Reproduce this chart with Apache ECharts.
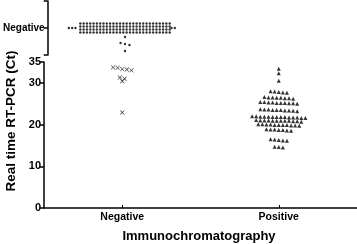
<!DOCTYPE html>
<html>
<head>
<meta charset="utf-8">
<script src="https://cdn.jsdelivr.net/npm/echarts@6/dist/echarts.min.js"></script>
<style>
html, body { margin: 0; padding: 0; background: #fff; }
#chartsBox { width: 357px; height: 244px; }
</style>
</head>
<body>
<div id="chartsBox"></div>
<script>
// groups on the x axis (immunochromatography result)
var groups = ['Negative', 'Positive'];

// immuno-negative, PCR-negative samples: count drawn on the "Negative" row
var negativeCount = 117;
// immuno-negative samples with late signal, drawn below the Negative row (upper segment units)
var negativeLate = [18, 12, 11, 10, 4];
// immuno-negative but PCR-positive samples (Ct)
var negativeCt = [33.7, 33.3, 33.0, 33.2, 33.6, 31.3, 31.0, 30.4, 22.9];
// immuno-positive samples (Ct)
var positiveCt = [
    33.4, 32.3, 30.5,
    27.9, 27.7, 27.8, 28.0, 27.6,
    26.5, 26.3, 26.6, 26.4, 26.2, 26.5, 26.4, 26.3,
    25.3, 25.1, 25.2, 25.4, 25.0, 25.2, 25.3, 25.1, 25.2, 25.4,
    23.6, 23.4, 23.5, 23.7, 23.3, 23.5, 23.6, 23.4, 23.5, 23.2,
    21.9, 21.7, 21.8, 22.0, 21.6, 21.8, 21.9, 21.7, 21.8, 22.0, 21.7, 21.9, 21.8, 21.6,
    20.9, 21.0, 20.8, 20.9, 21.1, 20.8, 20.9, 21.0, 20.9, 20.7, 21.0, 20.9,
    20.0, 19.8, 19.9, 20.1, 19.7, 19.9, 20.0, 19.8, 19.9, 20.1, 19.9,
    18.8, 18.6, 18.7, 18.9, 18.5, 18.7, 18.8,
    16.4, 16.2, 16.3, 16.5, 16.1,
    14.7, 14.5, 14.6
];
var ctTicks = [0, 10, 20, 30, 35];
var negativeRowValue = 27;
var upperTicks = [0, 27, 54];

var pxPerUnit = 156.5; // x axis: 313px over 2 units

// spread points of a column into rows, centred on the group position
function swarm(values, center, gapPx, rowGap) {
    var sorted = values.slice().sort(function (a, b) { return b - a; });
    var rows = [], cur = [];
    sorted.forEach(function (v) {
        if (cur.length && cur[cur.length - 1] - v > rowGap) { rows.push(cur); cur = []; }
        cur.push(v);
    });
    if (cur.length) rows.push(cur);
    var out = [];
    rows.forEach(function (row) {
        row.forEach(function (v, k) {
            var off = (k - (row.length - 1) / 2) * gapPx;
            out.push([center + off / pxPerUnit, v]);
        });
    });
    return out;
}

// the big Negative row: 4 stacked rows plus a few on the ends
function negativeRow(count) {
    var perRow = 28, nRows = 4, out = [];
    var stepX = 3.35, stepY = 3;
    for (var i = 0; i < count; i++) {
        var r = Math.floor(i / perRow), c = i % perRow;
        if (r < nRows) {
            out.push([1 + (c - (perRow - 1) / 2) * stepX / pxPerUnit,
                      negativeRowValue + ((nRows - 1) / 2 - r) * stepY]);
        } else {
            var k = i - nRows * perRow;
            var side = k % 2 === 0 ? -1 : 1;
            var pos = perRow / 2 + 0.5 + Math.floor(k / 2);
            out.push([1 + side * pos * stepX / pxPerUnit - 0.01, negativeRowValue]);
        }
    }
    return out;
}

var negRowData = negativeRow(negativeCount).concat(swarm(negativeLate, 1, 4.5, 1.5));
var negCtData = swarm(negativeCt, 1, 4.6, 0.35);
var posCtData = swarm(positiveCt, 2, 4.1, 0.35);

var labelFont = { fontFamily: 'Liberation Sans, Arial', fontWeight: 'bold', color: '#000' };
var axisLine = { show: true, lineStyle: { color: '#000', width: 1.5 } };

option = {
    animation: false,
    backgroundColor: '#fff',
    grid: [
        { left: 44, right: 0, top: 1, height: 54 },
        { left: 44, right: 0, top: 62, height: 146 }
    ],
    xAxis: [
        { type: 'value', gridIndex: 0, min: 0.5, max: 2.5, show: false },
        {
            type: 'value', gridIndex: 1, min: 0.5, max: 2.5,
            axisLine: axisLine,
            splitLine: { show: false },
            axisTick: { customValues: [1, 2], inside: true, length: 3, lineStyle: { color: '#000', width: 1 } },
            axisLabel: {
                customValues: [1, 2], margin: 4, fontSize: 10.5,
                fontFamily: labelFont.fontFamily, fontWeight: 'bold', color: '#000',
                formatter: function (v) { return groups[Math.round(v) - 1]; }
            }
        }
    ],
    yAxis: [
        {
            type: 'value', gridIndex: 0, min: 0, max: 54,
            axisLine: axisLine,
            splitLine: { show: false },
            axisTick: { customValues: upperTicks, length: 4, lineStyle: { color: '#000', width: 1.5 } },
            axisLabel: {
                customValues: [negativeRowValue], margin: 3, fontSize: 10,
                fontFamily: labelFont.fontFamily, fontWeight: 'bold', color: '#000',
                formatter: function () { return 'Negative'; }
            }
        },
        {
            type: 'value', gridIndex: 1, min: 0, max: 35,
            axisLine: axisLine,
            splitLine: { show: false },
            axisTick: { customValues: ctTicks, length: 4, lineStyle: { color: '#000', width: 1.5 } },
            axisLabel: {
                customValues: ctTicks, margin: 3, fontSize: 11,
                fontFamily: labelFont.fontFamily, fontWeight: 'bold', color: '#000'
            }
        }
    ],
    graphic: [
        {
            type: 'text', x: 11, y: 121, rotation: Math.PI / 2,
            style: {
                text: 'Real time RT-PCR (Ct)', textAlign: 'center', textVerticalAlign: 'middle',
                font: 'bold 13.5px "Liberation Sans", Arial', fill: '#000'
            }
        },
        {
            type: 'text', x: 199, y: 236,
            style: {
                text: 'Immunochromatography', textAlign: 'center', textVerticalAlign: 'middle',
                font: 'bold 13px "Liberation Sans", Arial', fill: '#000'
            }
        }
    ],
    series: [
        {
            type: 'scatter', xAxisIndex: 0, yAxisIndex: 0,
            symbol: 'circle', symbolSize: 2.4,
            itemStyle: { color: '#000' },
            data: negRowData
        },
        {
            type: 'scatter', xAxisIndex: 1, yAxisIndex: 1,
            symbol: 'path://M0,1L1,0L5,4L9,0L10,1L6,5L10,9L9,10L5,6L1,10L0,9L4,5Z', symbolSize: 4.5,
            itemStyle: { color: '#000' },
            data: negCtData
        },
        {
            type: 'scatter', xAxisIndex: 1, yAxisIndex: 1,
            symbol: 'triangle', symbolSize: 4,
            itemStyle: { color: '#000' },
            data: posCtData
        }
    ]
};

var chartsBox = echarts.init(document.getElementById('chartsBox'));
chartsBox.setOption(option);
</script>
</body>
</html>
